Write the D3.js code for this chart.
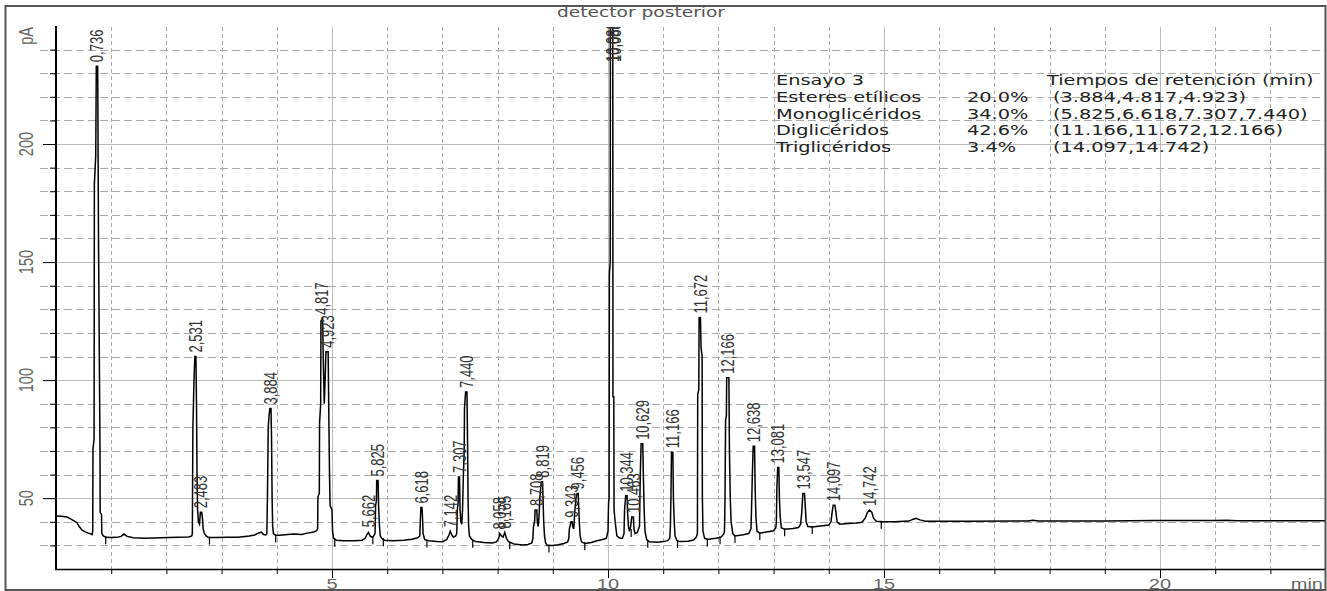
<!DOCTYPE html>
<html lang="es">
<head>
<meta charset="UTF-8">
<title>detector posterior</title>
<script src="https://d3js.org/d3.v7.min.js"></script>
<style>
  body { margin: 0; background: #fff; }
  svg { font-family: "Liberation Sans", Arial, sans-serif; }
</style>
</head>
<body>
<div id="chart"></div>
<script>
// signal trace [min, pA]
var trace = [
  [0,42.5],[0.1,42.3],[0.2,42],[0.28,41],[0.34,40.2],[0.38,39.6],[0.42,38],[0.47,36.5],[0.52,35.8],[0.58,35.2],[0.64,34.8],
  [0.655,34.6],[0.665,36],[0.67,71],[0.69,75],[0.695,183],[0.72,195],[0.73,233],[0.755,233],[0.77,160],[0.785,110],[0.797,71],[0.80,44],[0.825,43],[0.83,35],[0.86,34],[0.9,33.4],
  [1.0,33.3],[1.1,33.4],[1.18,33.8],[1.23,34.8],[1.29,33.8],[1.4,33.2],[1.6,33],[1.9,33.2],[2.2,33.4],[2.4,33.6],[2.46,34],
  [2.47,35],[2.48,80],[2.50,100],[2.515,110],[2.535,110],[2.545,90],[2.555,60],[2.565,45],[2.58,40],
  [2.60,39],[2.615,44],[2.64,44],[2.655,41],[2.665,37],[2.69,35],[2.72,34],[2.76,33.3],[2.9,33.3],[3.1,33.5],[3.3,33.5],[3.5,34],[3.6,34.4],[3.66,35.2],[3.72,35.6],[3.76,34.6],[3.8,34.4],
  [3.82,35],[3.83,50],[3.845,80],[3.86,85],[3.875,88],[3.895,88],[3.905,75],[3.915,50],[3.925,38],[3.94,35],[3.98,34.2],
  [4.1,34.4],[4.3,34.8],[4.45,34.6],[4.55,35.2],[4.62,35.5],[4.68,35.8],[4.72,36.2],
  [4.74,37],[4.745,50.5],[4.77,52],[4.775,82],[4.795,90],[4.80,125],[4.83,126],[4.845,105],[4.86,90],[4.875,100],[4.89,112],[4.93,112],[4.945,80],[4.955,60],[4.965,47],[5.0,45],[5.01,36],[5.03,33],[5.08,32.2],
  [5.2,32],[5.4,32],[5.55,32.2],[5.6,33],[5.63,34.5],[5.66,35.5],[5.69,34],[5.72,33.5],[5.75,33.8],
  [5.78,35],[5.79,47],[5.805,49],[5.81,57.5],[5.835,57.5],[5.845,46],[5.86,38],[5.875,34],[5.9,33],[5.95,32.2],
  [6.1,32],[6.3,32.2],[6.45,32.6],[6.55,33.2],[6.59,34],
  [6.60,40],[6.61,46],[6.63,46],[6.64,42],[6.65,35],[6.68,32.4],[6.75,32],
  [6.9,31.6],[7.0,31.5],[7.08,32.5],[7.12,34.5],[7.142,36],[7.17,34.5],[7.2,33.5],[7.24,34],
  [7.26,35],[7.27,45],[7.285,48],[7.29,59],[7.31,59],[7.32,45],[7.335,40],[7.35,39],[7.365,45],[7.38,60],[7.395,70],[7.40,88],[7.42,95],[7.445,95],[7.455,75],[7.465,50],[7.475,38],[7.49,34],[7.53,32.5],[7.6,31.6],
  [7.75,31.2],[7.9,31],[7.98,31.5],[8.02,33],[8.04,35],[8.07,34],[8.1,33.5],[8.13,35.5],[8.16,33],[8.2,31.5],[8.3,30.6],[8.45,30.2],[8.55,30.4],[8.62,31],
  [8.64,33],[8.65,38],[8.67,40],[8.68,45],[8.71,45],[8.72,40],[8.735,38],[8.75,42],[8.765,50],[8.79,57],[8.815,57],[8.825,48],[8.835,40],[8.85,34],[8.87,31],[8.9,30],
  [9.0,30],[9.1,30.3],[9.2,30.8],[9.27,31.5],
  [9.29,33],[9.30,37],[9.33,40],[9.35,40],[9.36,38],[9.38,37],[9.40,45],[9.42,50],[9.44,52],[9.46,52],[9.47,46],[9.48,40],[9.495,34],[9.52,31.5],[9.58,30.8],
  [9.7,31.2],[9.8,32],[9.9,32.5],[9.97,33],
  [10.0,36],[10.01,48],[10.02,50],[10.025,145],[10.04,150],[10.045,300],[10.085,300],[10.09,93],[10.105,93],[10.11,45],[10.13,40],[10.16,34],[10.22,33],
  [10.26,33],[10.29,35],[10.30,45],[10.32,51],[10.345,51],[10.355,44],[10.37,38],[10.39,36],[10.41,38],[10.43,42],[10.46,42],[10.47,37],[10.49,35],[10.53,35.5],[10.57,38],[10.585,60],[10.60,73],[10.63,73],[10.64,60],[10.655,45],[10.67,36],[10.70,32.5],[10.75,31.5],
  [10.9,31.3],[11.0,31.6],[11.08,32],[11.12,33],
  [11.13,38],[11.14,50],[11.15,69.5],[11.175,69.5],[11.185,50],[11.2,40],[11.215,34],[11.25,32],[11.3,31.6],
  [11.45,31.8],[11.55,32.3],[11.6,33.5],
  [11.62,35],[11.625,94],[11.645,96],[11.65,126.5],[11.675,126.5],[11.685,114],[11.705,110],[11.71,50],[11.72,36],[11.75,33],[11.8,32.5],
  [11.95,33],[12.05,33.5],[12.1,35],
  [12.11,36],[12.12,50],[12.13,83],[12.145,85],[12.15,101],[12.19,101],[12.2,70],[12.215,50],[12.23,40],[12.26,35],[12.3,34],
  [12.45,34.5],[12.55,35],
  [12.59,37],[12.60,45],[12.615,60],[12.63,72],[12.655,72],[12.665,55],[12.68,42],[12.70,36],[12.75,35.2],
  [12.9,35.8],[13.0,36.2],[13.04,37.5],
  [13.05,40],[13.06,55],[13.075,63],[13.095,63],[13.105,50],[13.12,42],[13.14,37.5],[13.2,36.8],
  [13.35,37.2],[13.45,37.6],[13.49,39],
  [13.51,44],[13.53,52],[13.56,52],[13.575,46],[13.59,40],[13.62,38],[13.7,37.8],
  [13.85,38.2],[14.0,38.6],[14.04,40],
  [14.06,44],[14.08,47],[14.11,47],[14.13,44],[14.15,40],[14.2,39],
  [14.35,39.3],[14.5,39.5],[14.6,39.8],[14.66,41.5],[14.70,44],[14.74,45],[14.78,44],[14.81,41.5],[14.86,40.2],[14.95,40],
  [15.2,40],[15.45,40.3],[15.52,41],[15.58,41.5],[15.65,40.8],[15.75,40.2],[16.5,40.2],[17.6,40.3],[17.7,40.6],[17.8,40.3],
  [19.0,40.3],[19.9,40.5],[21.0,40.5],[21.2,40.7],[21.4,40.4],[23,40.4]
];

// labelled peaks
var peakTimes   = [0.736, 2.531, 2.63, 3.884, 4.817, 4.923, 5.662, 5.825, 6.618, 7.142, 7.307, 7.440, 8.04, 8.13, 8.708, 8.819, 9.343, 9.456, 10.088, 10.344, 10.463, 10.629, 11.166, 11.672, 12.166, 12.638, 13.081, 13.547, 14.097, 14.742];
var peakHeights = [233, 110, 44, 88, 126, 112, 36, 57.5, 46, 36, 59, 95, 35, 35.5, 45, 57, 40, 52, 300, 51, 42, 73, 69.5, 126.5, 101, 72, 63, 52, 47, 45];
var peakLabels  = ["0,736", "2,531", "2,483", "3,884", "4,817", "4,923", "5,662", "5,825", "6,618", "7,142", "7,307", "7,440", "8,058", "8,165", "8,708", "8,819", "9,343", "9,456", "10,088", "10,344", "10,463", "10,629", "11,166", "11,672", "12,166", "12,638", "13,081", "13,547", "14,097", "14,742"];

// integration marks on the baseline [min, pA]
var marks = [[0.9,33.4],[2.78,33.3],[3.98,34.2],[5.05,32.4],[5.74,33.5],[5.93,32.6],[6.72,32.1],[7.55,32],[8.22,31.3],[8.93,30],[9.58,30.9],[10.42,36.5],[10.72,32],[11.26,31.8],[11.8,32.5],[12.03,33.4],[12.3,34],[12.75,35.2],[13.2,36.8],[13.7,37.8],[14.95,40]];

var xMajor = [5, 10, 15, 20];
var xMinor = [1, 2, 3, 4, 6, 7, 8, 9, 11, 12, 13, 14, 16, 17, 18, 19, 21, 22];
var yMajor = [50, 100, 150, 200];
var yMinor = [30, 40, 60, 70, 80, 90, 110, 120, 130, 140, 160, 170, 180, 190, 210, 220, 230, 240];

var legendTitle = "Ensayo 3";
var legendHead  = "Tiempos de retención (min)";
var legendNames = ["Esteres etílicos", "Monoglicéridos", "Diglicéridos", "Triglicéridos"];
var legendPct   = ["20.0%", "34.0%", "42.6%", "3.4%"];
var legendTimes = ["(3.884,4.817,4.923)", "(5.825,6.618,7.307,7.440)", "(11.166,11.672,12.166)", "(14.097,14.742)"];

var W = 1327, H = 591;
var SX = 1.38;   // the screenshot is stretched sideways

var svg = d3.select("#chart").append("svg")
    .attr("width", W)
    .attr("height", H);

svg.append("rect").attr("width", W).attr("height", H).attr("fill", "#fff");

var x = d3.scaleLinear().domain([0, 23]).range([56, 1325.6]);
var y = d3.scaleLinear().domain([20, 250]).range([569, 26]);
var px = function (v) { return Math.round(x(v)) + 0.5; };
var py = function (v) { return Math.round(y(v)) + 0.5; };

function stext(g, tx, ty, str, rot) {
    return g.append("text")
        .attr("transform", "translate(" + tx + "," + ty + ") scale(" + SX + ",1)" + (rot ? " rotate(-90)" : ""))
        .text(str);
}

// grid
var grid = svg.append("g");
grid.selectAll(".hmin").data(yMinor).enter().append("line")
    .attr("x1", 40).attr("x2", 1325).attr("y1", py).attr("y2", py)
    .attr("stroke", "#aaa").attr("stroke-dasharray", "8,4");
grid.selectAll(".hmaj").data(yMajor).enter().append("line")
    .attr("x1", 43).attr("x2", 1325).attr("y1", py).attr("y2", py)
    .attr("stroke", "#bbb");
grid.selectAll(".vmin").data(xMinor).enter().append("line")
    .attr("x1", px).attr("x2", px).attr("y1", 27).attr("y2", 569)
    .attr("stroke", "#aaa").attr("stroke-dasharray", "4,3");
grid.selectAll(".vmaj").data(xMajor).enter().append("line")
    .attr("x1", px).attr("x2", px).attr("y1", 27).attr("y2", 569)
    .attr("stroke", "#bbb");

// axes
svg.append("g")
    .attr("transform", "translate(56,0)")
    .call(d3.axisLeft(y).tickValues(yMinor).tickSize(6).tickFormat(""))
    .call(function (g) { g.select(".domain").remove(); });
svg.append("g")
    .attr("transform", "translate(56,0)")
    .call(d3.axisLeft(y).tickValues(yMajor).tickSize(13).tickFormat(""))
    .call(function (g) { g.select(".domain").remove(); });
svg.append("g")
    .attr("transform", "translate(0,569)")
    .call(d3.axisBottom(x).tickValues(xMinor).tickSize(5).tickFormat(""))
    .call(function (g) { g.select(".domain").remove(); });
svg.append("g")
    .attr("transform", "translate(0,569)")
    .call(d3.axisBottom(x).tickValues(xMajor).tickSize(9).tickFormat(""))
    .call(function (g) { g.select(".domain").remove(); });

svg.append("line").attr("x1", 56).attr("x2", 56).attr("y1", 26).attr("y2", 570)
    .attr("stroke", "#000").attr("stroke-width", 2);
svg.append("line").attr("x1", 55).attr("x2", 1326).attr("y1", 569.5).attr("y2", 569.5)
    .attr("stroke", "#000").attr("stroke-width", 1.5);

// tick labels
var lab = svg.append("g").attr("fill", "#666").style("font-size", "14.5px");
yMajor.forEach(function (v) {
    stext(lab, 26, y(v), String(v), true).attr("text-anchor", "middle").attr("dy", "0.35em");
});
stext(lab, 26, 36, "pA", true).attr("text-anchor", "middle").attr("dy", "0.35em");
xMajor.forEach(function (v) {
    stext(lab, x(v), 589, String(v)).attr("text-anchor", "middle");
});
stext(lab, 1323, 589, "min").attr("text-anchor", "end");

// trace
svg.append("clipPath").attr("id", "plot")
    .append("rect").attr("x", 56).attr("y", 27).attr("width", 1270).attr("height", 542);

var line = d3.line()
    .x(function (d) { return x(d[0]); })
    .y(function (d) { return y(d[1]); });

svg.append("path")
    .datum(trace)
    .attr("clip-path", "url(#plot)")
    .attr("fill", "none")
    .attr("stroke", "#000")
    .attr("stroke-width", 1.5)
    .attr("d", line);

svg.append("g").selectAll("line").data(marks).enter().append("line")
    .attr("x1", function (d) { return x(d[0]); })
    .attr("x2", function (d) { return x(d[0]); })
    .attr("y1", function (d) { return y(d[1]) - 1; })
    .attr("y2", function (d) { return y(d[1]) + 7; })
    .attr("stroke", "#000").attr("stroke-width", 1.2);

// peak labels
var pl = svg.append("g").attr("clip-path", "url(#plot)").attr("fill", "#333").style("font-size", "13px");
peakTimes.forEach(function (t, i) {
    var top = Math.max(y(peakHeights[i]), 66) - 4;
    stext(pl, x(t), top, peakLabels[i], true).attr("dy", "0.35em");
    if (peakHeights[i] > 250) {
        stext(pl, x(t) + 2, top, peakLabels[i], true).attr("dy", "0.35em");
    }
});

// title
svg.append("g").attr("fill", "#555").style("font-size", "13.5px").style("font-family", "'DejaVu Sans'")
    .call(function (g) { stext(g, 641, 17, "detector posterior").attr("text-anchor", "middle"); });

// legend
var lg = svg.append("g").attr("fill", "#222").style("font-size", "14px").style("font-family", "'DejaVu Sans'");
stext(lg, 776, 85, legendTitle);
stext(lg, 1047, 85, legendHead);
legendNames.forEach(function (n, i) {
    var by = 102 + i * 16.7;
    stext(lg, 776, by, n);
    stext(lg, 967, by, legendPct[i]);
    stext(lg, 1053, by, legendTimes[i]);
});

// frame
svg.append("rect").attr("x", 5.5).attr("y", 6).attr("width", 1320).attr("height", 584)
    .attr("fill", "none").attr("stroke", "#555").attr("stroke-width", 2);
</script>
</body>
</html>
